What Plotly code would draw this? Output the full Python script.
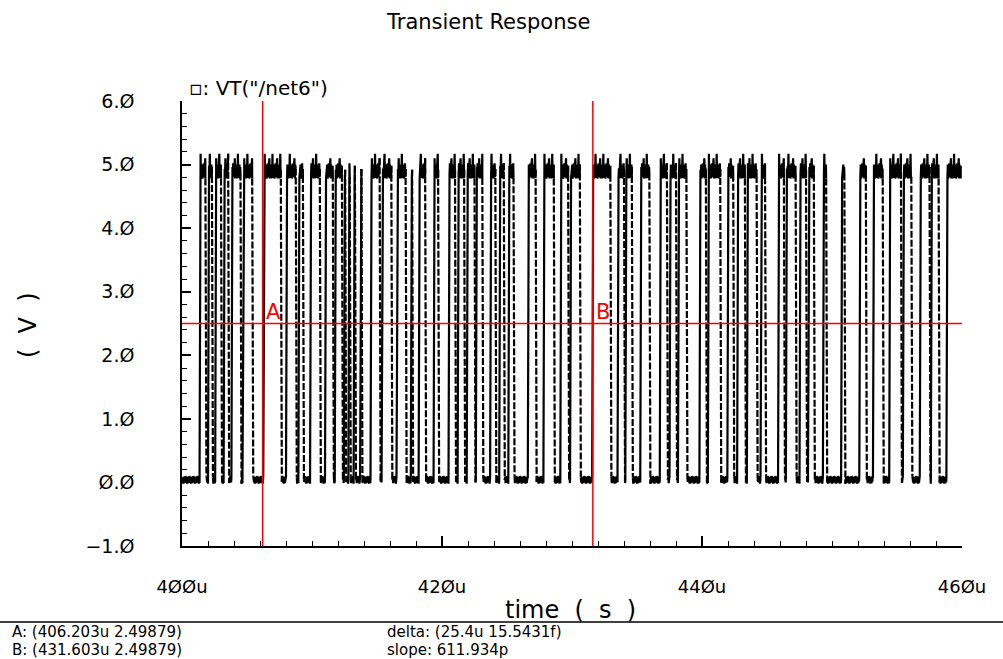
import plotly.graph_objects as go

# time axis in microseconds, signal switches between a low and a high rail
# edge times (us), level toggles at each one, starting low
edges_us = [
    401.35, 401.8, 402.0, 402.3, 402.55, 403.0, 403.2, 403.55, 403.8, 404.5,
    404.65, 405.4, 406.25, 407.6, 408.0, 408.75, 408.95, 409.3, 409.85,
    410.6, 411.0, 411.6, 411.75, 412.3, 412.45, 412.55, 412.8, 412.9, 413.2,
    413.3, 413.7, 413.8, 414.5, 415.2, 415.35, 416.1, 416.5, 417.2, 417.6,
    417.7, 418.2, 418.7, 419.35, 419.7,
    420.5, 421.0, 421.2, 421.7, 421.9, 422.5, 422.6, 423.1, 423.7, 424.1,
    424.4, 424.75, 425.1, 425.5, 426.6, 427.2, 427.8, 428.6, 429.1, 429.7,
    429.85, 430.6,
    431.55, 432.95, 433.5, 434.0, 434.1, 434.6, 435.25, 435.95, 436.75, 437.3,
    437.5, 438.0, 438.15, 438.8,
    439.8, 440.3, 440.45, 441.4, 441.95, 442.4, 442.7, 443.3, 443.45, 444.2,
    444.5, 444.85, 445.85, 446.3, 446.45, 447.2, 447.5, 448.0, 448.15, 448.6,
    449.3, 449.55,
    450.7, 450.95, 452.1, 452.6, 453.15, 453.9, 454.4, 455.3, 455.45, 456.1,
    456.75, 457.5, 457.6, 458.2, 458.8,
]
t_start_us = 400.0
t_end_us = 459.9

hi_level = 4.9
lo_level = 0.05
hi_ripple = [0.1, -0.1, 0.04, -0.12, 0.08, -0.06, 0.27, -0.11, 0.02, -0.09,
             0.1, -0.12, 0.06, -0.04, 0.12, -0.1, 0.03, -0.08, 0.2, -0.12]
lo_ripple = [0.02, -0.05, 0.03, -0.07, -0.01, 0.04, -0.06, 0.0, -0.04, 0.05]

cursor_a = (406.203, 2.49879)
cursor_b = (431.603, 2.49879)

x_tickvals = [400, 420, 440, 460]
x_ticktext = ["4ØØu", "42Øu", "44Øu", "46Øu"]
y_tickvals = [-1, 0, 1, 2, 3, 4, 5, 6]
y_ticktext = ["−1.Ø", "Ø.Ø", "1.Ø", "2.Ø", "3.Ø", "4.Ø", "5.Ø", "6.Ø"]

readout = [
    ("A: (406.203u 2.49879)", 10, 632),
    ("B: (431.603u 2.49879)", 10, 650),
    ("delta: (25.4u 15.5431f)", 385, 632),
    ("slope: 611.934p", 385, 650),
]

FONT = "DejaVu Sans"
L, R, T, B = 182, 962, 101, 546   # plot area in pixels
W, H = 1003, 659


def px(x):
    return (x - L) / (R - L)


def py(y):
    return (B - y) / (B - T)


# build the waveform: levels + rising edges solid, falling edges dashed
step = 0.03
rise = 0.08
xs, ys = [], []
fx, fy = [], []
bounds = [t_start_us] + edges_us + [t_end_us]
state = 0
k = 0
for i in range(len(bounds) - 1):
    a, b = bounds[i], bounds[i + 1]
    rip = hi_ripple if state else lo_ripple
    base = hi_level if state else lo_level
    t = a + (rise if i > 0 else 0)
    while t < b:
        xs.append(t)
        ys.append(base + rip[k % len(rip)])
        k += 1
        t += step
    end_y = base + rip[k % len(rip)]
    xs.append(b)
    ys.append(end_y)
    if state and i < len(bounds) - 2:
        # falling edge goes to the dashed trace
        fx += [b, b + rise, None]
        fy += [end_y, lo_level + lo_ripple[k % len(lo_ripple)], None]
        xs.append(None)
        ys.append(None)
    state ^= 1

fig = go.Figure()
fig.add_trace(go.Scatter(x=xs, y=ys, mode="lines", connectgaps=False,
                         line=dict(color="black", width=2.2), hoverinfo="skip"))
fig.add_trace(go.Scatter(x=fx, y=fy, mode="lines",
                         line=dict(color="black", width=2.2, dash="7px,2px"),
                         hoverinfo="skip"))

# cursors
for cx in (cursor_a[0], cursor_b[0]):
    fig.add_shape(type="line", x0=cx, x1=cx, y0=-1, y1=6, xref="x", yref="y",
                  line=dict(color="#ff0000", width=1.5))
fig.add_shape(type="line", x0=400, x1=460, y0=cursor_a[1], y1=cursor_a[1],
              xref="x", yref="y", line=dict(color="#ff0000", width=1.5))
for name, (cx, cy) in (("A", cursor_a), ("B", cursor_b)):
    fig.add_annotation(x=cx, y=cy, xref="x", yref="y", text=name, showarrow=False,
                       xanchor="left", yanchor="bottom", xshift=1, yshift=-2,
                       font=dict(family=FONT, size=21, color="#ff0000"))

fig.update_layout(
    width=W, height=H,
    margin=dict(l=L, r=W - R, t=T, b=H - B),
    plot_bgcolor="#FFF", paper_bgcolor="#FFF",
    showlegend=False,
    font=dict(family=FONT, size=19, color="black"),
    xaxis=dict(
        range=[400, 460], showgrid=False, zeroline=False,
        showline=True, linecolor="black", linewidth=1.5,
        tickmode="array", tickvals=x_tickvals, ticktext=x_ticktext,
        tickfont=dict(size=18),
        ticks="inside", ticklen=10, tickcolor="black", tickwidth=1.5,
        ticklabelstandoff=24,
        minor=dict(tick0=400, dtick=2, ticks="inside", ticklen=5,
                   tickcolor="black", tickwidth=1.2, showgrid=False),
    ),
    yaxis=dict(
        range=[-1, 6], showgrid=False, zeroline=False,
        showline=True, linecolor="black", linewidth=1.5,
        tickmode="array", tickvals=y_tickvals, ticktext=y_ticktext,
        ticks="inside", ticklen=9, tickcolor="black", tickwidth=1.5,
        ticklabelstandoff=42,
        minor=dict(tick0=-1, dtick=0.2, ticks="inside", ticklen=5,
                   tickcolor="black", tickwidth=1.2, showgrid=False),
    ),
)

# titles
fig.add_annotation(x=px(488), y=py(22), xref="paper", yref="paper",
                   text="Transient Response", showarrow=False,
                   xanchor="center", yanchor="middle", font=dict(family=FONT, size=21))
fig.add_annotation(x=px(570), y=py(610), xref="paper", yref="paper",
                   text="time  (  s  )", showarrow=False,
                   xanchor="center", yanchor="middle", font=dict(family=FONT, size=24))
fig.add_annotation(x=px(28), y=py(325), xref="paper", yref="paper",
                   text="(  V  )", showarrow=False, textangle=-90,
                   xanchor="center", yanchor="middle", font=dict(family=FONT, size=24))
fig.add_annotation(x=px(187), y=py(88), xref="paper", yref="paper",
                   text="▫: VT(\"/net6\")", showarrow=False,
                   xanchor="left", yanchor="middle", font=dict(family=FONT, size=20))

# cursor readout under a separator line
fig.add_shape(type="line", xref="paper", yref="paper", x0=px(0), x1=px(W),
              y0=py(622), y1=py(622), line=dict(color="black", width=1.5))
for txt, tx, ty in readout:
    fig.add_annotation(x=px(tx), y=py(ty), xref="paper", yref="paper",
                       text=txt, showarrow=False, xanchor="left", yanchor="middle",
                       font=dict(family=FONT, size=15))

fig.write_html("out.html", config={"displayModeBar": False},
               post_script="document.body.style.margin='0';")
